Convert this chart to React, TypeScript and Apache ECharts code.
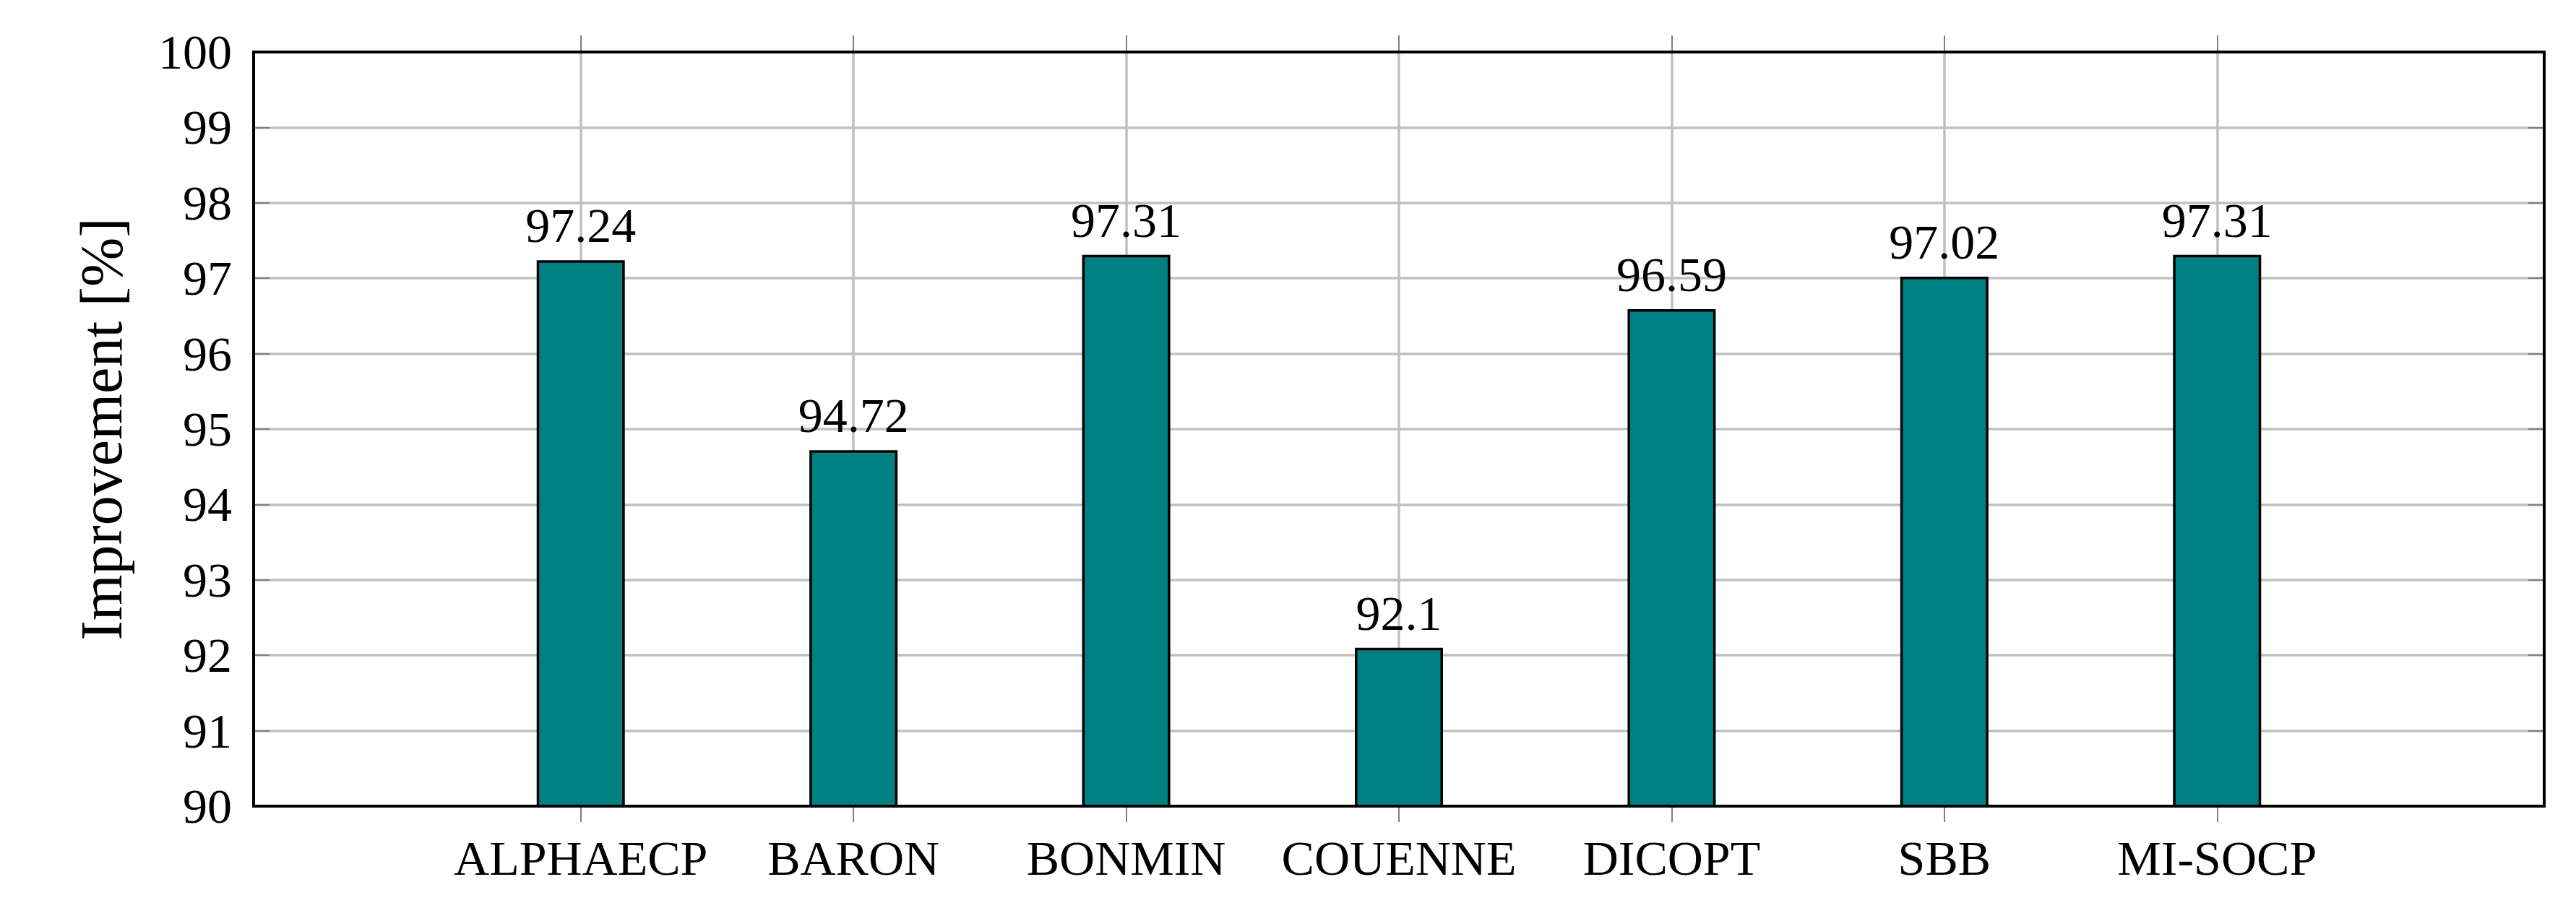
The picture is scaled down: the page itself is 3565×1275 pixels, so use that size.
import React, { useEffect, useRef } from "react";
import * as echarts from "echarts";

const categories = ["ALPHAECP", "BARON", "BONMIN", "COUENNE", "DICOPT", "SBB", "MI-SOCP"];
const improvement = [97.24, 94.72, 97.31, 92.1, 96.59, 97.02, 97.31];
const yMin = 90;
const yMax = 100;
const yInterval = 1;
const yName = "Improvement [%]";

const FONT = "'Liberation Serif', 'DejaVu Serif', serif";
const GRID_GRAY = "#c0c0c0";
const TICK_GRAY = "#808080";

export default function App() {
  const ref = useRef<HTMLDivElement>(null);
  useEffect(() => {
    document.body.style.margin = "0";
    const chart = echarts.init(ref.current!, null, { renderer: "svg" });
    const top = 72;
    const bottom = 159;
    chart.setOption({
      animation: false,
      backgroundColor: "#ffffff",
      grid: [
        { left: 351, right: 44, top, bottom, show: true, borderColor: "#000", borderWidth: 4, backgroundColor: "transparent", z: 5 },
        { left: 615, right: 308, top, bottom },
      ],
      xAxis: [
        { type: "value", gridIndex: 0, min: 0, max: 1, show: false },
        {
          type: "category",
          gridIndex: 1,
          data: categories,
          boundaryGap: true,
          axisLine: { show: false },
          axisTick: { show: true, interval: 0, alignWithLabel: true, length: 22, inside: false, lineStyle: { color: TICK_GRAY, width: 2 } },
          splitLine: { show: true, interval: 0, alignWithLabel: true, lineStyle: { color: GRID_GRAY, width: 3.5 } },
          axisLabel: { interval: 0, fontFamily: FONT, fontSize: 68, color: "#000", margin: 38 },
        },
        {
          type: "category",
          gridIndex: 1,
          position: "top",
          data: categories,
          boundaryGap: true,
          axisLine: { show: false },
          axisTick: { show: true, interval: 0, alignWithLabel: true, length: 23, inside: false, lineStyle: { color: TICK_GRAY, width: 2 } },
          splitLine: { show: false },
          axisLabel: { show: false },
        },
      ],
      yAxis: [
        {
          type: "value",
          gridIndex: 0,
          min: yMin,
          max: yMax,
          interval: yInterval,
          position: "left",
          name: yName,
          nameLocation: "middle",
          nameRotate: 90,
          nameGap: 170,
          nameTextStyle: { fontFamily: FONT, fontSize: 82, color: "#000" },
          axisLine: { show: false },
          axisTick: { show: true, inside: true, length: 22, lineStyle: { color: TICK_GRAY, width: 2 } },
          splitLine: { show: true, lineStyle: { color: GRID_GRAY, width: 3.5 } },
          axisLabel: { fontFamily: FONT, fontSize: 68, color: "#000", margin: 30 },
        },
        {
          type: "value",
          gridIndex: 0,
          min: yMin,
          max: yMax,
          interval: yInterval,
          position: "right",
          axisLine: { show: false },
          axisTick: { show: true, inside: true, length: 22, lineStyle: { color: TICK_GRAY, width: 2 } },
          splitLine: { show: false },
          axisLabel: { show: false },
        },
        { type: "value", gridIndex: 1, min: yMin, max: yMax, show: false },
      ],
      series: [
        {
          type: "bar",
          xAxisIndex: 1,
          yAxisIndex: 2,
          data: improvement,
          barWidth: 122,
          z: 3,
          itemStyle: { color: "#008080", borderColor: "#000", borderWidth: 3.5 },
          label: {
            show: true,
            position: "top",
            distance: 14,
            fontFamily: FONT,
            fontSize: 68,
            color: "#000",
          },
        },
      ],
    });
    return () => chart.dispose();
  }, []);
  return <div ref={ref} style={{ width: 3565, height: 1275 }} />;
}
